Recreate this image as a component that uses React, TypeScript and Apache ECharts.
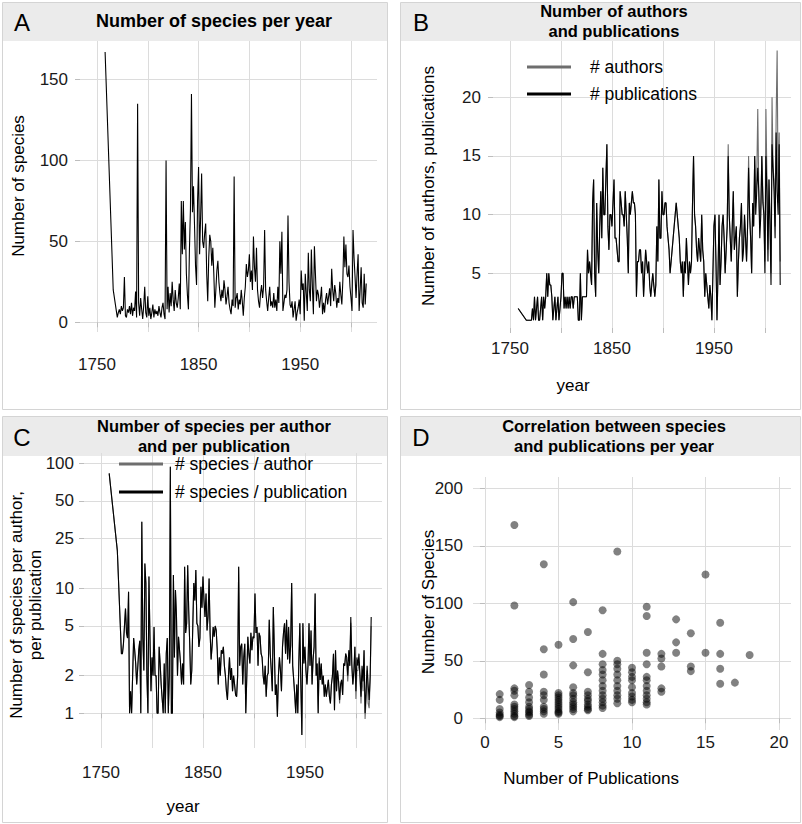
import React, { useEffect, useRef } from "react";
import * as echarts from "echarts";

const FONT = '"Liberation Sans", Arial, Helvetica, sans-serif';

// ---------- DATA ----------
const firstYears = [1758, 1766, 1770];
const years = [...firstYears, ...Array.from({ length: 245 }, (_, i) => 1771 + i)];

const speciesPerYear = [
  167, 20, 3,
  6, 8, 5, 10, 7, 9, 28, 4, 3,
  8, 6, 10, 5, 12, 4, 9, 7, 19, 3,
  135, 12, 4, 15, 8, 2, 10, 22, 6, 3,
  16, 4, 9, 2, 6, 11, 3, 8, 5, 7,
  4, 10, 6, 3, 9, 12, 5, 2, 100, 8,
  22, 6, 18, 10, 25, 14, 7, 20, 12, 9,
  15, 24, 8, 75, 42, 75, 45, 62, 30, 17,
  8, 45, 70, 141, 68, 84, 60, 35, 23, 75,
  96, 42, 65, 92, 50, 46, 55, 61, 30, 13,
  40, 54, 50, 35, 46, 30, 9, 20, 32, 38,
  25, 18, 13, 20, 15, 26, 20, 11, 16, 22,
  12, 8, 5, 14, 10, 90, 9, 15, 18, 8,
  14, 11, 20, 13, 4, 15, 22, 36, 28, 32,
  42, 25, 32, 20, 53, 34, 25, 46, 20, 13,
  9, 18, 23, 15, 22, 57, 20, 13, 7, 15,
  22, 10, 13, 9, 18, 9, 14, 7, 22, 12,
  50, 30, 56, 7, 12, 17, 15, 20, 66, 25,
  11, 9, 13, 3, 8, 13, 1, 6, 9, 14,
  5, 32, 20, 24, 1, 30, 18, 7, 43, 20,
  13, 45, 22, 5, 47, 30, 13, 20, 17, 9,
  15, 22, 5, 12, 6, 14, 18, 11, 16, 21,
  10, 33, 20, 13, 23, 18, 9, 15, 12, 25,
  17, 11, 26, 53, 34, 48, 30, 28, 35, 22,
  15, 7, 57, 40, 28, 15, 30, 42, 7, 20,
  34, 12, 9, 30, 11, 24,
];

const authorsPerYear = [
  2, 1, 1,
  1, 2, 1, 3, 1, 2, 3, 1, 1,
  2, 3, 1, 3, 2, 3, 5, 3, 5, 4,
  4, 3, 1, 2, 3, 1, 2, 3, 1, 2,
  3, 5, 5, 2, 3, 2, 3, 2, 3, 2,
  3, 3, 2, 3, 3, 3, 3, 1, 1, 5,
  1, 3, 3, 3, 3, 3, 7, 5, 6, 5,
  4, 11, 13, 5, 3, 11, 7, 5, 9, 12,
  8, 14, 10, 10, 13, 16, 9, 7, 10, 10,
  9, 11, 13, 8, 8, 7, 6, 6, 12, 11,
  10, 10, 9, 12, 10, 8, 5, 11, 10, 11,
  12, 11, 11, 10, 3, 6, 6, 7, 7, 5,
  6, 3, 5, 7, 6, 5, 6, 4, 3, 4,
  5, 4, 3, 4, 9, 6, 13, 8, 8, 12,
  10, 10, 11, 11, 9, 8, 7, 5, 6, 7,
  8, 9, 10, 11, 10, 9, 8, 6, 5, 6,
  3, 6, 5, 8, 6, 4, 6, 5, 6, 11,
  15, 10, 9, 7, 6, 8, 7, 6, 10, 7,
  6, 3, 5, 4, 3, 2, 4, 3, 1, 5,
  9, 10, 6, 1, 5, 10, 4, 6, 9, 10,
  8, 5, 7, 9, 16, 10, 8, 6, 9, 12,
  7, 8, 9, 3, 6, 8, 9, 11, 6, 7,
  10, 8, 6, 9, 15, 10, 8, 5, 11, 9,
  15, 11, 13, 19, 12, 9, 11, 15, 12, 10,
  6, 19, 13, 7, 13, 10, 5, 20, 14, 13,
  9, 18, 24, 11, 17, 6,
];

const publicationsPerYear = [
  2, 1, 1,
  1, 2, 1, 3, 1, 2, 3, 1, 1,
  2, 3, 1, 3, 2, 3, 5, 3, 5, 4,
  4, 3, 1, 2, 3, 1, 2, 3, 1, 2,
  3, 5, 5, 2, 3, 2, 3, 2, 3, 2,
  3, 3, 2, 3, 3, 3, 3, 1, 1, 5,
  1, 3, 3, 3, 3, 3, 7, 5, 6, 5,
  4, 11, 13, 5, 3, 11, 7, 5, 9, 12,
  8, 14, 10, 10, 13, 16, 9, 7, 10, 10,
  9, 11, 13, 8, 8, 7, 6, 6, 12, 11,
  10, 10, 9, 12, 10, 8, 5, 11, 10, 11,
  12, 11, 11, 10, 3, 6, 6, 7, 7, 5,
  6, 3, 5, 7, 6, 5, 6, 4, 3, 4,
  5, 4, 3, 4, 9, 6, 13, 8, 8, 12,
  10, 10, 11, 11, 9, 8, 7, 5, 6, 7,
  8, 9, 10, 11, 10, 9, 8, 6, 5, 6,
  3, 6, 5, 8, 6, 4, 6, 5, 6, 11,
  15, 10, 9, 7, 6, 8, 7, 6, 10, 7,
  6, 3, 5, 4, 3, 2, 4, 3, 1, 5,
  9, 10, 6, 1, 5, 10, 4, 6, 9, 10,
  8, 5, 7, 9, 15, 10, 8, 6, 9, 12,
  7, 8, 9, 3, 6, 8, 9, 11, 6, 7,
  10, 8, 6, 9, 14, 10, 8, 5, 11, 9,
  15, 10, 12, 14, 12, 8, 10, 15, 11, 10,
  5, 15, 12, 6, 13, 9, 4, 16, 14, 12,
  8, 17, 12, 10, 16, 4,
];

const speciesPerPublication = [
  83, 20, 3,
  3, 3.6, 5, 6.9, 4.4, 4, 9.4, 1, 1.5,
  1, 2, 4, 3.2, 2.5, 1.7, 2.3, 3.2, 3.8, 1,
  34, 4, 2.2, 15.8, 11, 2, 1, 12.4, 4.1, 1.5,
  2.8, 2, 4.9, 2, 2, 1, 1, 3.4, 2.5, 1.7,
  1.3, 1, 2.5, 1, 3, 4, 1, 2, 94, 1,
  1, 12.8, 2.8, 9.7, 6, 2, 4.1, 3.2, 2.5, 1.7,
  2.5, 1.7, 14.9, 4.4, 5.25, 15.3, 6.7, 3.6, 1.7, 2.2,
  5, 11, 8, 14, 5.25, 5, 3.4, 4, 10.3, 7,
  12.4, 8, 5.9, 9.1, 4.6, 6, 12, 4.4, 2.7, 3.5,
  4.9, 4.1, 5, 4.6, 3.2, 1.7, 2.8, 2, 3.2, 3,
  3.4, 2.4, 2, 1.5, 1.28, 2, 2.8, 1.85, 2.3, 1.5,
  2, 1.7, 1.4, 1.36, 2, 14.9, 2.4, 3.4, 3.6, 1.7,
  2.8, 3.6, 1, 2, 4.1, 3, 2.5, 4.4, 3.2, 4.1,
  4, 9.1, 4.4, 4.9, 2.4, 4.4, 4.1, 3, 2.8, 2,
  1.7, 2.4, 1.36, 2, 2.1, 5.6, 3, 2.2, 1.5, 7.1,
  3.2, 1.4, 1.7, 0.94, 2, 2.8, 2.2, 1.5, 3.4, 4.4,
  5.25, 3, 5.6, 2.7, 4.9, 2.5, 3.5, 11, 2.4, 1.85,
  1.4, 1, 1.7, 1, 2.5, 5.25, 1.7, 0.67, 5.25, 2.5,
  3.4, 2.2, 1.7, 2.4, 5.25, 2.4, 4.6, 1.7, 2.7, 3.4,
  9.1, 2, 2.5, 1, 2.8, 1.85, 2.5, 1.7, 2, 1.36,
  1.7, 1.36, 1.6, 1.85, 1.36, 1.2, 1.7, 2, 3, 1.06,
  3.2, 1.5, 2.2, 1.8, 1.28, 1.7, 1.85, 1.4, 2.5, 2.4,
  3, 2.8, 2, 3.2, 2.4, 5.9, 2.5, 1.7, 2.2, 3.4,
  1.5, 2.8, 2.4, 3, 2, 1.36, 2.4, 1.8, 3.2, 1,
  1.5, 2.4, 1.7, 1.28, 2, 5.9,
];

const speciesPerAuthor = [
  83, 20, 3,
  3, 3.6, 5, 6.9, 4.4, 4, 9.4, 1, 1.5,
  1, 2, 4, 3.2, 2.5, 1.7, 2.3, 3.2, 3.8, 1,
  34, 4, 2.2, 15.8, 11, 2, 1, 12.4, 4.1, 1.5,
  2.8, 2, 4.9, 2, 2, 1, 1, 3.4, 2.5, 1.7,
  1.3, 1, 2.5, 1, 3, 4, 1, 2, 94, 1,
  1, 12.8, 2.8, 9.7, 6, 2, 4.1, 3.2, 2.5, 1.7,
  2.5, 1.7, 14.9, 4.4, 5.25, 15.3, 6.7, 3.6, 1.7, 2.2,
  5, 11, 8, 14, 5.25, 5, 3.4, 4, 10.3, 7,
  12.4, 8, 5.9, 9.1, 4.6, 6, 12, 4.4, 2.7, 3.5,
  4.9, 4.1, 5, 4.6, 3.2, 1.7, 2.8, 2, 3.2, 3,
  3.4, 2.4, 2, 1.5, 1.28, 2, 2.8, 1.85, 2.3, 1.5,
  2, 1.7, 1.4, 1.36, 2, 14.9, 2.4, 3.4, 3.6, 1.7,
  2.8, 3.6, 1, 2, 4.1, 3, 2.5, 4.4, 3.2, 4.1,
  4, 9.1, 4.4, 4.9, 2.4, 4.4, 4.1, 3, 2.8, 2,
  1.7, 2.4, 1.36, 2, 2.1, 5.6, 3, 2.2, 1.5, 7.1,
  3.2, 1.4, 1.7, 0.94, 2, 2.8, 2.2, 1.5, 3.4, 4.4,
  5.25, 3, 5.6, 2.7, 4.9, 2.5, 3.5, 11, 2.4, 1.85,
  1.4, 1, 1.7, 1, 2.5, 5.25, 1.7, 0.67, 5.25, 2.5,
  3.4, 2.2, 1.7, 2.4, 5.25, 2.4, 4.6, 1.7, 2.7, 3.4,
  9.1, 2, 2.5, 1, 2.6, 1.85, 2.5, 1.7, 2, 1.36,
  1.7, 1.36, 1.6, 1.85, 1.36, 1.2, 1.7, 2, 3, 1.06,
  3.2, 1.5, 2.2, 1.8, 1.2, 1.7, 1.85, 1.4, 2.5, 2.4,
  3, 2.5, 1.8, 2.5, 2.4, 5.3, 2.3, 1.7, 2, 3.4,
  1.3, 2.2, 2.2, 2.6, 2, 1.2, 2, 1.5, 3.2, 0.9,
  1.3, 2.2, 1.2, 1.1, 1.8, 5,
];

// Panel D: number of publications (x) and the species counts seen for each
const publicationCounts = [1, 2, 3, 4, 5, 6, 7, 8, 9, 10, 11, 12, 13, 14, 15, 16, 17, 18];
const speciesForPublicationCount = [
  [21, 16, 8, 5, 3, 2, 1],
  [168, 98, 26, 24, 20, 12, 10, 8, 6, 4, 2, 1],
  [29, 23, 18, 14, 10, 8, 6, 5, 3, 2],
  [134, 60, 38, 23, 20, 16, 10, 8, 6, 4],
  [64, 22, 20, 18, 16, 14, 12, 10, 8, 6, 5, 4],
  [101, 69, 46, 27, 22, 20, 17, 14, 12, 10, 8, 6],
  [75, 40, 23, 20, 17, 15, 12, 10, 8, 7],
  [94, 56, 47, 42, 38, 33, 28, 24, 20, 17, 14, 11, 9],
  [145, 50, 47, 43, 38, 33, 28, 24, 20, 17, 13],
  [44, 40, 36, 33, 27, 22, 19, 16, 14],
  [97, 89, 57, 47, 36, 33, 28, 24, 20, 17, 14, 12],
  [56, 52, 45, 26, 23],
  [86, 66, 57],
  [74, 45, 41],
  [125, 57],
  [83, 56, 43, 30],
  [31],
  [55],
];

const yearGridTicks = [1750, 1800, 1850, 1900, 1950, 2000];
const yearLabels = [1750, 1850, 1950];
const speciesTicks = [0, 50, 100, 150];
const authorTicks = [5, 10, 15, 20];
const ratioTicks = [1, 2, 5, 10, 25, 50, 100];
const scatterXTicks = [0, 5, 10, 15, 20];
const scatterYTicks = [0, 50, 100, 150, 200];

// ---------- HELPERS ----------
const pairs = (vals: number[], tf?: (v: number) => number) =>
  years
    .map((y, i) => (vals[i] === undefined ? null : [y, tf ? tf(vals[i]) : vals[i]]))
    .filter((p) => p !== null);

const GRID_C = "#dcdcdc";
const TICK_C = "#bdbdbd";
const LABEL_C = "#1a1a1a";

function yearAxis(gridIndex: number, margin: number) {
  return {
    type: "value",
    gridIndex,
    min: 1733.3,
    max: 2025.6,
    axisLine: { show: false },
    axisTick: { show: true, customValues: yearGridTicks, length: 5, lineStyle: { color: TICK_C } },
    axisLabel: {
      customValues: yearLabels,
      formatter: (v: number) => String(v),
      fontSize: 17,
      color: LABEL_C,
      fontFamily: FONT,
      margin,
    },
    splitLine: { show: true, lineStyle: { color: GRID_C, width: 1 } },
  };
}

function valueAxis(gridIndex: number, min: number, max: number, ticks: number[], margin: number, fmt?: (v: number) => string) {
  return {
    type: "value",
    gridIndex,
    min,
    max,
    axisLine: { show: false },
    axisTick: { show: true, customValues: ticks, length: 5, lineStyle: { color: TICK_C } },
    axisLabel: {
      customValues: ticks,
      formatter: fmt || ((v: number) => String(v)),
      fontSize: 17,
      color: LABEL_C,
      fontFamily: FONT,
      margin,
    },
    splitLine: { show: true, lineStyle: { color: GRID_C, width: 1 } },
  };
}

function txt(x: number, y: number, text: string, opts: any = {}) {
  return {
    type: "text",
    x,
    y,
    z: 100,
    rotation: opts.rotation || 0,
    silent: true,
    style: {
      text,
      fill: opts.fill || "#000",
      fontFamily: FONT,
      fontSize: opts.fontSize || 17,
      fontWeight: opts.bold ? "bold" : "normal",
      align: opts.align || "center",
      verticalAlign: "middle",
      lineHeight: opts.lineHeight || 20,
    },
  };
}

function panel(x: number, y: number, w: number, h: number, stripH: number) {
  return [
    { type: "rect", silent: true, z: -10, shape: { x: x + 0.5, y: y + 0.5, width: w, height: h }, style: { fill: "#fff", stroke: "#d4d4d4", lineWidth: 1 } },
    { type: "rect", silent: true, z: -9, shape: { x: x + 1, y: y + 1, width: w - 1, height: stripH }, style: { fill: "#ebebeb" } },
  ];
}

function legendLine(x1: number, x2: number, y: number, color: string) {
  return { type: "line", silent: true, z: 100, shape: { x1, y1: y, x2, y2: y }, style: { stroke: color, lineWidth: 3 } };
}

export default function App() {
  const ref = useRef<HTMLDivElement>(null);

  useEffect(() => {
    if (!ref.current) return;
    const chart = echarts.init(ref.current, undefined, { renderer: "svg" });

    const scatterData: number[][] = [];
    publicationCounts.forEach((p, i) => {
      (speciesForPublicationCount[i] || []).forEach((s) => scatterData.push([p, s]));
    });

    const log = (v: number) => Math.log10(v);

    const option: any = {
      animation: false,
      backgroundColor: "#ffffff",
      grid: [
        { left: 80, top: 41, width: 297, height: 291 },
        { left: 493, top: 41, width: 298, height: 287 },
        { left: 84, top: 453, width: 298, height: 295 },
        { left: 473, top: 477, width: 318, height: 253 },
      ],
      xAxis: [
        yearAxis(0, 24),
        yearAxis(1, 12),
        yearAxis(2, 16),
        valueAxis(3, -0.816, 20.816, scatterXTicks, 4),
      ],
      yAxis: [
        valueAxis(0, -6, 173.8, speciesTicks, 12),
        valueAxis(1, 0.34, 24.8, authorTicks, 12),
        valueAxis(2, -0.2776, 2.0824, ratioTicks.map(log), 10, (v: number) => String(Math.round(Math.pow(10, v)))),
        valueAxis(3, -10.2, 209.8, scatterYTicks, 10),
      ],
      series: [
        {
          type: "line", xAxisIndex: 0, yAxisIndex: 0, data: pairs(speciesPerYear),
          symbol: "none", lineStyle: { color: "#000", width: 1.1 }, silent: true,
        },
        {
          name: "# authors", type: "line", xAxisIndex: 1, yAxisIndex: 1, data: pairs(authorsPerYear),
          symbol: "none", lineStyle: { color: "#6e6e6e", width: 1.1 }, silent: true,
        },
        {
          name: "# publications", type: "line", xAxisIndex: 1, yAxisIndex: 1, data: pairs(publicationsPerYear),
          symbol: "none", lineStyle: { color: "#000", width: 1.1 }, silent: true,
        },
        {
          name: "# species / author", type: "line", xAxisIndex: 2, yAxisIndex: 2, data: pairs(speciesPerAuthor, log),
          symbol: "none", lineStyle: { color: "#6e6e6e", width: 1.1 }, silent: true,
        },
        {
          name: "# species / publication", type: "line", xAxisIndex: 2, yAxisIndex: 2, data: pairs(speciesPerPublication, log),
          symbol: "none", lineStyle: { color: "#000", width: 1.1 }, silent: true,
        },
        {
          type: "scatter", xAxisIndex: 3, yAxisIndex: 3, data: scatterData,
          symbolSize: 8, itemStyle: { color: "rgba(0,0,0,0.62)" }, silent: true,
        },
      ],
      graphic: [
        ...panel(2, 2, 385, 407, 38),
        ...panel(400, 2, 400, 407, 38),
        ...panel(2, 416, 385, 406, 39),
        ...panel(400, 416, 400, 406, 39),
        txt(22, 22, "A", { fontSize: 24, lineHeight: 26 }),
        txt(421, 22, "B", { fontSize: 24, lineHeight: 26 }),
        txt(22, 437, "C", { fontSize: 24, lineHeight: 26 }),
        txt(421, 437, "D", { fontSize: 24, lineHeight: 26 }),
        txt(214, 21, "Number of species per year", { bold: true, fontSize: 18 }),
        txt(614, 21, "Number of authors\nand publications", { bold: true, fontSize: 16.5, lineHeight: 19.5 }),
        txt(214, 436, "Number of species per author\nand per publication", { bold: true, fontSize: 16.5, lineHeight: 19.5 }),
        txt(614, 436, "Correlation between species\nand publications per year", { bold: true, fontSize: 16.5, lineHeight: 19.5 }),
        txt(18, 186, "Number of species", { rotation: Math.PI / 2, fontSize: 17 }),
        txt(428, 186, "Number of authors, publications", { rotation: Math.PI / 2, fontSize: 17 }),
        txt(26, 605, "Number of species per author,\nper publication", { rotation: Math.PI / 2, fontSize: 17, lineHeight: 19.5 }),
        txt(428, 602, "Number of Species", { rotation: Math.PI / 2, fontSize: 17 }),
        txt(573, 385, "year", { fontSize: 17 }),
        txt(183, 806, "year", { fontSize: 17 }),
        txt(591, 778, "Number of Publications", { fontSize: 17 }),
        legendLine(527, 571, 67, "#6e6e6e"),
        legendLine(527, 571, 94, "#000"),
        txt(590, 67, "# authors", { align: "left", fontSize: 17.5 }),
        txt(590, 94, "# publications", { align: "left", fontSize: 17.5 }),
        legendLine(119, 163, 464, "#6e6e6e"),
        legendLine(119, 163, 492, "#000"),
        txt(175, 464, "# species / author", { align: "left", fontSize: 17.5 }),
        txt(175, 492, "# species / publication", { align: "left", fontSize: 17.5 }),
      ],
    };

    chart.setOption(option);
    return () => chart.dispose();
  }, []);

  return (
    <div
      ref={ref}
      style={{ position: "absolute", left: 0, top: 0, width: 802, height: 824, background: "#fff" }}
    />
  );
}
